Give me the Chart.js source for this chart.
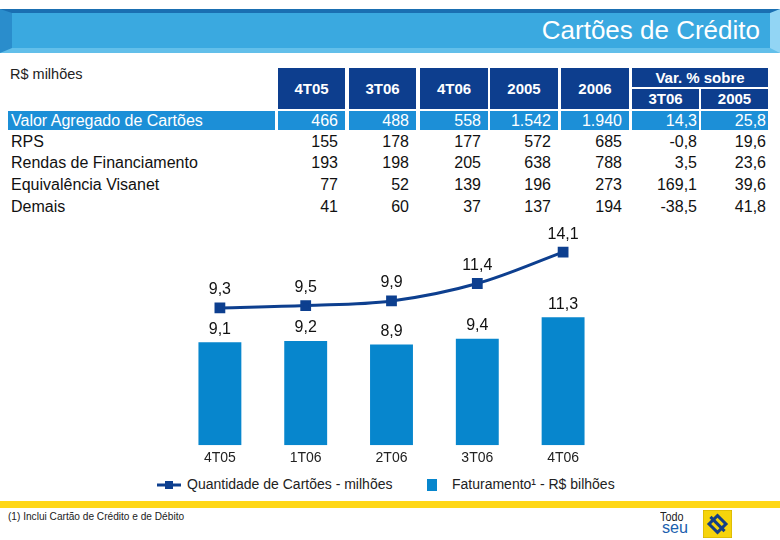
<!DOCTYPE html>
<html>
<head>
<meta charset="utf-8">
<script src="https://cdn.jsdelivr.net/npm/chart.js@4.4.0/dist/chart.umd.min.js"></script>
<style>
  body { margin: 0; width: 780px; height: 540px; background: #fff; font-family: "Liberation Sans", Arial, sans-serif; position: relative; overflow: hidden; }
  .abs { position: absolute; }
  #bar { left: 0; top: 9px; width: 780px; height: 44px; }
  #title { right: 20px; top: 14px; color: #fff; font-size: 26px; line-height: 32px; }
  .cell { position: absolute; box-sizing: border-box; font-size: 16px; line-height: 20px; white-space: nowrap; }
  .hd { background: #0d3e8e; color: #fff; font-weight: bold; text-align: center; font-size: 15px; }
  #unit { left: 10px; top: 66px; font-size: 14.5px; color: #222; }
  #chartBox { left: 0; top: 220px; }
  .leg { font-size: 14px; color: #222; top: 476px; }
  #yellow { left: 0; top: 501px; width: 780px; height: 7px; background: #ffd717; }
  #note { left: 8px; top: 510px; font-size: 11.5px; color: #222; transform: scaleX(0.88); transform-origin: left; }
</style>
</head>
<body>
<svg id="bar" class="abs" width="780" height="44">
  <rect x="0" y="0" width="780" height="44" fill="#3aa9e0"/>
  <rect x="0" y="0" width="780" height="4" fill="#1a6fb2"/>
  <rect x="0" y="39" width="780" height="5" fill="#62bfea"/>
  <polygon points="0,0 12,4 12,39 0,44" fill="#2a8dcc"/>
  <polygon points="770,4 780,0 780,44 770,39" fill="#92d5f4"/>
</svg>
<div id="title" class="abs">Cartões de Crédito</div>
<div id="unit" class="abs">R$ milhões</div>
<div id="table"></div>

<div id="chartBox" class="abs"><canvas id="cardChart" width="780" height="252"></canvas></div>

<svg class="abs" style="left:157px;top:479px" width="24" height="12">
  <line x1="0" y1="6" x2="24" y2="6" stroke="#0d3f8f" stroke-width="3"/>
  <rect x="8" y="2" width="8" height="8" fill="#0d3f8f"/>
</svg>
<div class="abs leg" style="left:187px">Quantidade de Cartões - milhões</div>
<div class="abs" style="left:427px;top:479px;width:10px;height:12px;background:#0786cd"></div>
<div class="abs leg" style="left:452px">Faturamento¹ - R$ bilhões</div>

<div id="yellow" class="abs"></div>
<div id="note" class="abs">(1) Inclui Cartão de Crédito e de Débito</div>
<div class="abs" style="left:660px;top:511px;font-size:12px;color:#222;line-height:12px;transform:scaleX(0.9);transform-origin:left">Todo</div>
<div class="abs" style="left:662px;top:520px;font-size:17px;color:#1b5fae;line-height:16px;transform:scaleX(0.95);transform-origin:left">seu</div>
<svg class="abs" style="left:703px;top:510px" width="29" height="28">
  <rect x="0" y="0" width="29" height="28" fill="#f6d40c" stroke="#c9a800"/>
  <g transform="translate(14.5,14) rotate(45)" fill="none" stroke="#143f86" stroke-width="3">
    <rect x="-6" y="-6" width="12" height="12"/>
    <line x1="-10" y1="0" x2="10" y2="0"/>
  </g>
</svg>

<script>
// table data
var tableCols = ['4T05', '3T06', '4T06', '2005', '2006'];
var varCols = ['3T06', '2005'];
var rowLabels = ['Valor Agregado de Cartões', 'RPS', 'Rendas de Financiamento', 'Equivalência Visanet', 'Demais'];
var valorAgregado = [466, 488, 558, 1542, 1940, 14.3, 25.8];
var rps = [155, 178, 177, 572, 685, -0.8, 19.6];
var rendas = [193, 198, 205, 638, 788, 3.5, 23.6];
var visanet = [77, 52, 139, 196, 273, 169.1, 39.6];
var demais = [41, 60, 37, 137, 194, -38.5, 41.8];

// chart data
var quarters = ['4T05', '1T06', '2T06', '3T06', '4T06'];
var cardCount = [9.3, 9.5, 9.9, 11.4, 14.1];
var billing = [9.1, 9.2, 8.9, 9.4, 11.3];

function fmtInt(v) {
    return String(v).replace(/\B(?=(\d{3})+(?!\d))/g, '.');
}
function fmtDec(v) {
    return v.toFixed(1).replace('.', ',');
}

// build the table
var colX = [278, 349, 420, 490, 561, 632, 701];
var colW = [67, 67, 68, 68, 68, 67, 67];
var rowTop = [111, 132, 153, 175, 197];
var table = document.getElementById('table');

function addCell(text, x, y, w, h, cls, style) {
    var d = document.createElement('div');
    d.className = 'cell ' + (cls || '');
    d.textContent = text;
    d.style.left = x + 'px';
    d.style.top = y + 'px';
    d.style.width = w + 'px';
    d.style.height = h + 'px';
    d.style.lineHeight = h + 'px';
    if (style) Object.assign(d.style, style);
    table.appendChild(d);
}

tableCols.forEach(function (c, i) {
    addCell(c, colX[i], 68, colW[i], 41, 'hd');
});
addCell('Var. % sobre', 632, 68, 136, 19, 'hd');
varCols.forEach(function (c, i) {
    addCell(c, colX[5 + i], 89, colW[5 + i], 20, 'hd');
});

var rows = [valorAgregado, rps, rendas, visanet, demais];
rows.forEach(function (vals, r) {
    var first = r === 0;
    var bg = first ? '#1c8fd7' : 'transparent';
    var color = first ? '#fff' : '#111';
    addCell(rowLabels[r], 8, rowTop[r], 267, 19, '', { background: bg, color: color, paddingLeft: '3px' });
    vals.forEach(function (v, i) {
        var txt = i < 5 ? fmtInt(v) : fmtDec(v);
        addCell(txt, colX[i], rowTop[r], colW[i], 19, '', {
            background: bg, color: color, textAlign: 'right',
            paddingRight: (i < 5 ? 7 : 2) + 'px'
        });
    });
});

// value labels above bars and points
var valueLabels = {
    id: 'valueLabels',
    afterDatasetsDraw: function (chart) {
        var ctx = chart.ctx;
        ctx.save();
        ctx.font = '16px "Liberation Sans", Arial, sans-serif';
        ctx.fillStyle = '#111';
        ctx.textAlign = 'center';
        ctx.textBaseline = 'middle';
        chart.data.datasets.forEach(function (ds, di) {
            var meta = chart.getDatasetMeta(di);
            meta.data.forEach(function (el, i) {
                var off = ds.type === 'line' ? 18 : 13;
                ctx.fillText(fmtDec(ds.data[i]), el.x, el.y - off);
            });
        });
        ctx.restore();
    }
};

var ctx = document.getElementById('cardChart').getContext('2d');
var chart = new Chart(ctx, {
    data: {
        labels: quarters,
        datasets: [{
            type: 'line',
            label: 'Quantidade de Cartões - milhões',
            data: cardCount,
            yAxisID: 'yLine',
            borderColor: '#0d3f8f',
            backgroundColor: '#0d3f8f',
            borderWidth: 3,
            tension: 0.35,
            pointStyle: 'rect',
            pointRadius: 5.5,
            order: 0
        }, {
            type: 'bar',
            label: 'Faturamento¹ - R$ bilhões',
            data: billing,
            yAxisID: 'yBar',
            backgroundColor: '#0786cd',
            categoryPercentage: 1,
            barPercentage: 0.5,
            order: 1
        }]
    },
    options: {
        responsive: false,
        animation: false,
        layout: { padding: { left: 177, right: 174, top: 10, bottom: 0 } },
        plugins: { legend: { display: false }, tooltip: { enabled: false } },
        scales: {
            x: {
                grid: { display: false, drawTicks: false },
                border: { display: false },
                ticks: { color: '#222', font: { size: 14, family: '"Liberation Sans", Arial, sans-serif' }, padding: 5 }
            },
            yBar: { display: false, min: 0, max: 19 },
            yLine: { display: false, min: -2.5, max: 16 }
        }
    },
    plugins: [valueLabels]
});
</script>
</body>
</html>
